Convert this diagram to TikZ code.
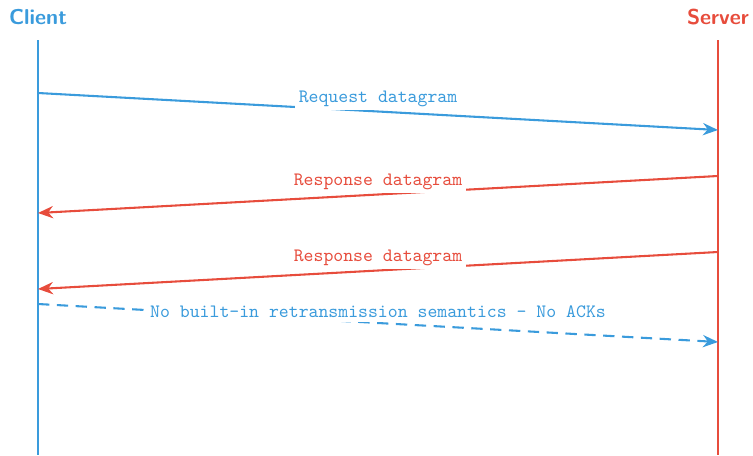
\documentclass[tikz,border=0pt]{standalone}
\usepackage{tikz}
\usetikzlibrary{arrows.meta,positioning}
\definecolor{cblue}{HTML}{3A9BDC}
\definecolor{sred}{HTML}{E74C3C}

\begin{document}
\begin{tikzpicture}[x=0.53pt,y=-0.53pt,>={Stealth[length=8pt,width=6.5pt]},
   actor/.style={font=\fontsize{11.4}{14}\sffamily\bfseries,inner sep=0pt},
   lifeline/.style={line width=1.1pt},
   msg/.style={->,line width=1.1pt},
   lbl/.style={font=\ttfamily,fill=white,above,inner sep=2pt}]
  \useasboundingbox (0,0) rectangle (753,455);
  \node[actor,text=cblue] (client) at (38,17) {Client};
  \node[actor,text=sred] (server) at (718,17) {Server};
  \coordinate (ctop) at (38,40);
  \coordinate (cbot) at (38,455);
  \coordinate (stop) at (718,40);
  \coordinate (sbot) at (718,455);
  \draw[lifeline,cblue] (ctop) -- (cbot);
  \draw[lifeline,sred] (stop) -- (sbot);
  % message end points
  \coordinate (c1) at (38,93);   \coordinate (s1) at (718,130);
  \coordinate (s2) at (718,176); \coordinate (c2) at (38,213);
  \coordinate (s3) at (718,252); \coordinate (c3) at (38,289);
  \coordinate (c4) at (38,304);  \coordinate (s4) at (718,342);
  \draw[msg,cblue] (c1) -- node[lbl] {Request datagram} (s1);
  \draw[msg,sred] (s2) -- node[lbl] {Response datagram} (c2);
  \draw[msg,sred] (s3) -- node[lbl] {Response datagram} (c3);
  \draw[msg,cblue,dash pattern=on 6pt off 4pt] (c4) -- node[lbl] {No built-in retransmission semantics - No ACKs} (s4);
\end{tikzpicture}
\end{document}
